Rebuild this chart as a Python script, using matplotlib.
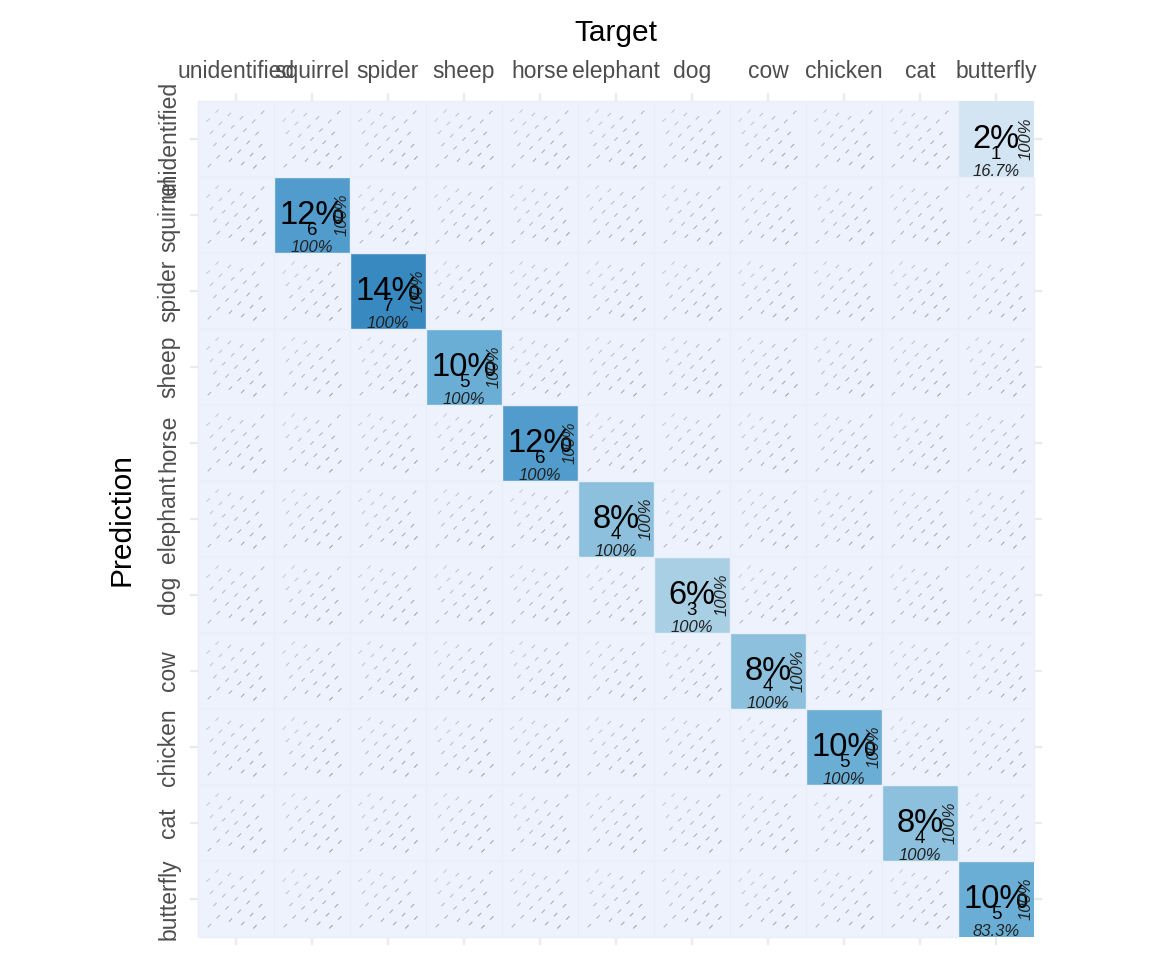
import matplotlib
matplotlib.use("Agg")
import matplotlib.pyplot as plt
from matplotlib.patches import Rectangle
from matplotlib.collections import LineCollection
from matplotlib.colors import Normalize
import numpy as np

plt.rcParams['font.family'] = ['Liberation Sans', 'DejaVu Sans']

classes = ["unidentified", "squirrel", "spider", "sheep", "horse", "elephant",
           "dog", "cow", "chicken", "cat", "butterfly"]
# non-zero cells: (prediction, target, count)
cell_pred = ["unidentified", "squirrel", "spider", "sheep", "horse", "elephant",
             "dog", "cow", "chicken", "cat", "butterfly"]
cell_target = ["butterfly", "squirrel", "spider", "sheep", "horse", "elephant",
               "dog", "cow", "chicken", "cat", "butterfly"]
cell_count = [1, 6, 7, 5, 6, 4, 3, 4, 5, 4, 5]

n = len(classes)
cm = np.zeros((n, n), dtype=int)
for p, t, c in zip(cell_pred, cell_target, cell_count):
    cm[classes.index(p), classes.index(t)] = c
total = cm.sum()
col_tot = cm.sum(axis=0)
row_tot = cm.sum(axis=1)

fig = plt.figure(figsize=(11.52, 9.6), dpi=100)
ax = fig.add_axes([190/1152, 1-945/960, 852/1152, 852/960])

cmap = plt.get_cmap('Blues')
norm = Normalize(vmin=-1.25, vmax=11.25)
zero_col = '#EEF2FD'

# hatch pattern (decoration) in local cell coordinates: dashes along up-right diagonals
du, dv = 0.165, 0.145
r2 = np.sqrt(2)
pat = []
for m in range(-6, 7):
    for k in range(-6, 7):
        u = k*du + (du/2 if m % 2 else 0)
        v = m*dv
        px = (u + v)/r2
        py = (-u + v)/r2
        if abs(px) <= 0.39 and abs(py) <= 0.39:
            pat.append((px, py))

segs = []
seg_cols = []
for i in range(n):
    for j in range(n):
        c = cm[i, j]
        if c == 0:
            ax.add_patch(Rectangle((j-0.5, i-0.5), 1, 1, facecolor=zero_col,
                                   edgecolor='#EAEEF9', lw=1.0, zorder=4))
            for px, py in pat:
                cx, cy = j + px, i + py
                segs.append([(cx-0.022, cy+0.022), (cx+0.022, cy-0.022)])
                w = 0.3 + 0.5*(0.5*(px + 0.4)/0.8 + 0.5*(py + 0.4)/0.8)
                seg_cols.append((0.48, 0.49, 0.56, w))
        else:
            ax.add_patch(Rectangle((j-0.5, i-0.5), 1, 1, facecolor=cmap(norm(c)),
                                   edgecolor='none', zorder=2))
            ax.text(j, i+0.01, f"{100*c/total:.0f}%", ha='center', va='center',
                    fontsize=23.5, color='black', zorder=3)
            ax.text(j, i+0.2, f"{c}", ha='center', va='center',
                    fontsize=13.5, color='black', zorder=3)
            cp = 100*c/col_tot[j]
            ax.text(j, i+0.43, (f"{cp:.0f}%" if cp == 100 else f"{cp:.1f}%"),
                    ha='center', va='center', fontsize=12, style='italic',
                    color='#222222', zorder=3)
            rp = 100*c/row_tot[i]
            ax.text(j+0.39, i, (f"{rp:.0f}%" if rp == 100 else f"{rp:.1f}%"),
                    ha='center', va='center', fontsize=12, style='italic',
                    rotation=90, color='#222222', zorder=3)

ax.add_collection(LineCollection(segs, colors=seg_cols, linewidths=0.7, zorder=5))

pad = 8/76
ax.set_xlim(-0.5-pad, n-0.5+pad)
ax.set_ylim(n-0.5+pad, -0.5-pad)
ax.set_xticks(range(n))
ax.set_yticks(range(n))
ax.set_xticklabels(classes, fontsize=16.5, color='#4D4D4D')
ax.set_yticklabels(classes, fontsize=16.5, color='#4D4D4D', rotation=90, va='center')
ax.xaxis.tick_top()
ax.xaxis.set_label_position('top')
ax.tick_params(axis='x', length=0, pad=7)
ax.tick_params(axis='y', length=0, pad=7)
ax.grid(True, color='#EBEBEB', lw=1.6, zorder=0)
ax.set_axisbelow(True)
for s in ax.spines.values():
    s.set_visible(False)
ax.set_xlabel("Target", fontsize=21.5, labelpad=14)
ax.set_ylabel("Prediction", fontsize=21.5, labelpad=16)

fig.savefig("out.png", dpi=100)
